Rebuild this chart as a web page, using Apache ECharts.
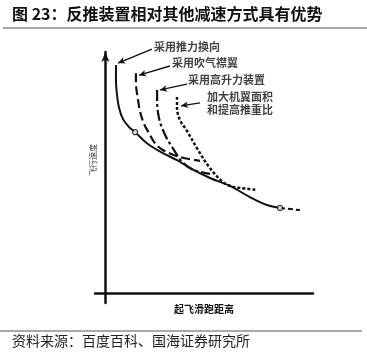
<!DOCTYPE html>
<html><head><meta charset="utf-8">
<script src="https://cdn.jsdelivr.net/npm/echarts@6/dist/echarts.min.js"></script>
<style>html,body{margin:0;padding:0;background:#fff}#c{width:367px;height:355px}</style>
</head><body><div id="c"></div>
<script>
// Curve data (arbitrary 0-100 scale, no ticks on the original)
const curveThrustReverse = [[5.1,94.6],[5.1,88.4],[5.6,82.2],[6.6,76.8],[8.5,72.2],[11.4,68.9],[14.3,66.8],[20.0,62.2],[27.7,58.1],[34.5,55.2],[40.8,51.9],[50.4,47.8],[60.0,44.5],[69.6,39.9],[77.8,36.6],[84.1,35.4]];
const curveTail = [[84.1,35.4],[93.7,34.5]];
const curveBlownFlap = [[14.7,91.2],[14.7,87.5],[15.7,80.3],[16.7,75.4],[18.6,70.2],[21.0,66.4],[23.9,62.2],[27.7,59.4],[35.9,56.5],[45.6,54.9]];
const curveHighLift = [[24.9,84.3],[24.9,80.1],[25.3,75.2],[26.3,71.0],[27.7,67.7],[29.7,64.0],[32.1,60.7],[34.5,57.4],[36.9,54.5],[42.2,51.2],[50.4,49.5]];
const curveWingArea = [[34.5,81.4],[34.5,77.3],[35.0,74.0],[36.4,71.0],[39.3,67.3],[44.1,60.2],[49.9,52.4],[56.6,46.1],[61.5,44.1],[64.8,43.7],[73.0,42.8]];
const markerPoints = [[14.3,66.8],[84.1,35.4]];
const labelTexts = ['采用推力换向','采用吹气襟翼','采用高升力装置','加大机翼面积\n和提高推重比'];
const labelAnchors = [[23.4,102.1],[32.1,95.4],[39.8,88.4],[49.0,78.9]];
const pointerStarts = [[22.4,101.2],[31.1,94.2],[39.3,86.7],[45.6,78.9]];
const pointerEnds = [[6.1,95.4],[16.2,90.4],[26.3,84.3],[36.4,77.7]];
const titleText = '图 23：反推装置相对其他减速方式具有优势';
const xName = '起飞滑跑距离';
const yName = '飞行速度';
const sourceText = '资料来源：百度百科、国海证券研究所';

const FONT = '"Noto Sans CJK SC", sans-serif';
const X_MIN = -5, X_MAX = 100, Y_MIN = -4, Y_MAX = 100;
const GRID = {left:95, right:54, top:52, bottom:52};
const pxPerX = (367 - GRID.left - GRID.right) / (X_MAX - X_MIN);
const pxPerY = (355 - GRID.top - GRID.bottom) / (Y_MAX - Y_MIN);

const chart = echarts.init(document.getElementById('c'), null, {renderer:'canvas'});
const lineBase = {type:'line', showSymbol:false, smooth:0.35, z:3, clip:false};

const pointerSeries = pointerStarts.map((s, i) => {
  const e = pointerEnds[i];
  const ang = Math.atan2((e[1]-s[1])*pxPerY, (e[0]-s[0])*pxPerX) * 180 / Math.PI;
  return {type:'line', z:4, clip:false, smooth:false, showSymbol:true,
    lineStyle:{color:'#111', width:1.4},
    data:[{value:s, symbol:'none'}, {value:e, symbol:'arrow', symbolSize:[5,7], symbolRotate:ang-90,
      itemStyle:{color:'#111'}}]};
});

chart.setOption({
  animation:false,
  backgroundColor:'#fff',
  grid:GRID,
  xAxis:{type:'value', min:X_MIN, max:X_MAX, name:xName, nameLocation:'middle', nameGap:1,
    nameTextStyle:{fontFamily:FONT, fontSize:10, fontWeight:'bold', color:'#111'},
    axisLine:{show:true, onZero:true, lineStyle:{color:'#111', width:2.5}},
    axisTick:{show:false}, axisLabel:{show:false}, splitLine:{show:false}},
  yAxis:{type:'value', min:Y_MIN, max:Y_MAX,
    axisLine:{show:true, onZero:true, symbol:['none','arrow'], symbolSize:[6,10], lineStyle:{color:'#111', width:2.5}},
    axisTick:{show:false}, axisLabel:{show:false}, splitLine:{show:false}},
  graphic:[
    {type:'text', left:12, top:6, style:{text:titleText, font:'bold 16px '+FONT, fill:'#111'}},
    {type:'line', shape:{x1:3,y1:28,x2:367,y2:28}, style:{stroke:'#888', lineWidth:1.5}},
    {type:'text', x:93, y:160, rotation:Math.PI/2, style:{text:yName, font:'8px '+FONT, fill:'#444', align:'center', verticalAlign:'middle'}},
    {type:'line', shape:{x1:0,y1:331,x2:362,y2:331}, style:{stroke:'#555', lineWidth:1.2}},
    {type:'text', left:12, top:334, style:{text:sourceText, font:'14px '+FONT, fill:'#222'}}
  ],
  series:[
    Object.assign({}, lineBase, {data:curveThrustReverse, lineStyle:{color:'#111', width:2}}),
    Object.assign({}, lineBase, {data:curveTail, smooth:false, lineStyle:{color:'#111', width:2, type:[5,3]}}),
    Object.assign({}, lineBase, {data:curveBlownFlap, lineStyle:{color:'#111', width:2.2, type:[9,4]}}),
    Object.assign({}, lineBase, {data:curveHighLift, lineStyle:{color:'#111', width:2.2, type:[11,3,3,3]}}),
    Object.assign({}, lineBase, {data:curveWingArea, lineStyle:{color:'#111', width:2.5, type:[3,2]}}),
    {type:'scatter', data:markerPoints, symbol:'circle', symbolSize:5, z:5, clip:false,
      itemStyle:{color:'#fff', borderColor:'#111', borderWidth:1.2}},
    ...pointerSeries,
    {type:'scatter', data:labelAnchors.map((p,i)=>({value:p, name:labelTexts[i]})), symbolSize:0, z:5, clip:false,
      label:{show:true, position:'right', distance:0, formatter:p=>p.name,
        fontFamily:FONT, fontSize:11, fontWeight:'bold', color:'#111', lineHeight:13}}
  ]
});
</script></body></html>
